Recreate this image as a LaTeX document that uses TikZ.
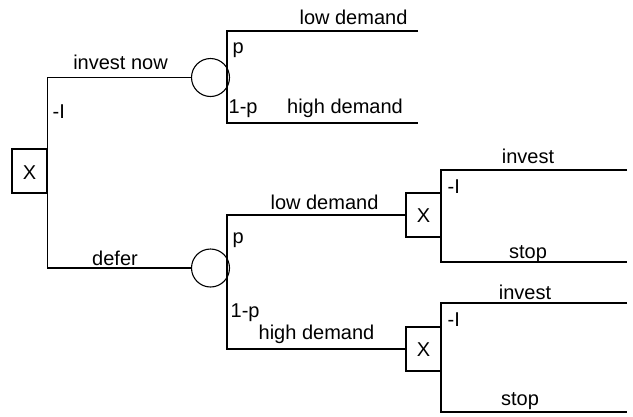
\documentclass[tikz,border=0pt]{standalone}
\usepackage{fontspec}
\setmainfont{Liberation Sans}
\begin{document}
\begin{tikzpicture}[x=1pt,y=-1pt,
  line width=1.3pt,
  every node/.style={font=\fontsize{20}{24}\selectfont},
  decbox/.style={draw,rectangle,minimum width=35pt,minimum height=44pt,inner sep=0pt},
  chance/.style={draw,circle,minimum size=38pt,inner sep=0pt,line width=1.1pt},
  lbl/.style={inner sep=0pt,anchor=base},
  lbll/.style={inner sep=0pt,anchor=base west}]
\useasboundingbox (0,0) rectangle (633,416);
% nodes
\node[decbox] (d0) at (29.5,171) {};
\node[lbl] (d0x) at (29.5,179) {X};
\node[chance] (c1) at (210.5,77.5) {};
\node[chance] (c2) at (210.5,268) {};
\node[decbox] (b1) at (423.5,215) {};
\node[lbl] (b1x) at (423.5,222) {X};
\node[decbox] (b2) at (423.5,349) {};
\node[lbl] (b2x) at (423.5,356) {X};
% coordinates
\coordinate (v1a) at (227,31);
\coordinate (v1b) at (227,123);
\coordinate (e1a) at (418,31);
\coordinate (e1b) at (418,123);
\coordinate (v2a) at (227,215);
\coordinate (v2b) at (227,349);
\coordinate (w1a) at (441,170);
\coordinate (w1b) at (441,262);
\coordinate (f1a) at (627,170);
\coordinate (f1b) at (627,262);
\coordinate (w2a) at (441,303);
\coordinate (w2b) at (441,412);
\coordinate (f2a) at (627,303);
\coordinate (f2b) at (627,412);
% connectors
\draw (c1.west) -| (d0.east) |- (c2.west);
\draw (e1a) -- (v1a) -- (v1b) -- (e1b);
\draw (b1.west) -- (v2a) -- (v2b) -- (b2.west);
\draw (f1a) -- (w1a) -- (w1b) -- (f1b);
\draw (f2a) -- (w2a) -- (w2b) -- (f2b);
% labels
\node[lbl] at (120.5,69) {invest now};
\node[lbll] at (52,118) {-I};
\node[lbl] at (115,265) {defer};
\node[lbl] at (353.5,24) {low demand};
\node[lbl] at (345,113) {high demand};
\node[lbll] at (232,53) {p};
\node[lbll] at (228,113) {1-p};
\node[lbl] at (324.5,209) {low demand};
\node[lbl] at (316.5,339) {high demand};
\node[lbll] at (232,243) {p};
\node[lbll] at (230,317) {1-p};
\node[lbl] at (528,163) {invest};
\node[lbll] at (447,193) {-I};
\node[lbl] at (528,258) {stop};
\node[lbl] at (525,299) {invest};
\node[lbll] at (447,326) {-I};
\node[lbl] at (520,405) {stop};
\end{tikzpicture}
\end{document}
